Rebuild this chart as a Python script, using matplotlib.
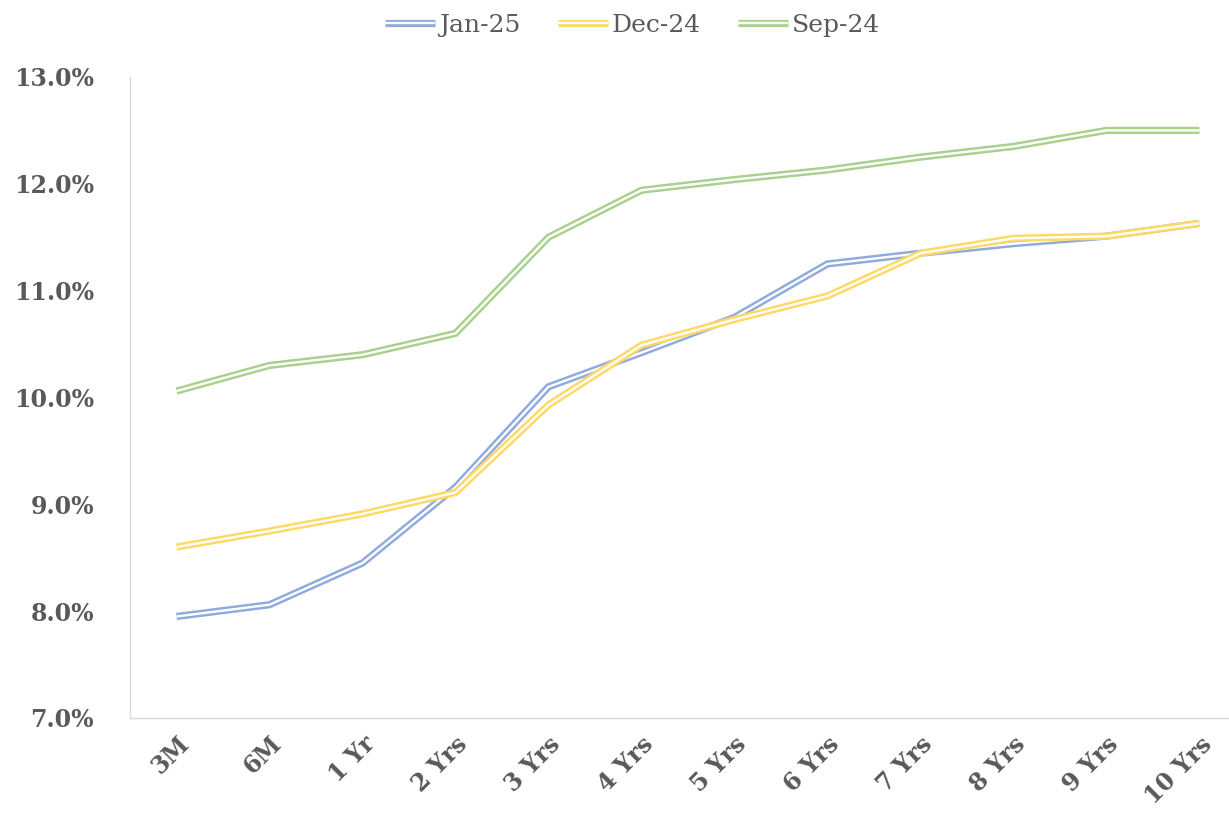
import matplotlib
matplotlib.use("Agg")
import matplotlib.pyplot as plt
import matplotlib.patheffects as pe
from matplotlib.ticker import FuncFormatter

# 收益率曲线数据
tenors = ["3M", "6M", "1 Yr", "2 Yrs", "3 Yrs", "4 Yrs", "5 Yrs",
          "6 Yrs", "7 Yrs", "8 Yrs", "9 Yrs", "10 Yrs"]
jan25 = [7.95, 8.06, 8.45, 9.16, 10.10, 10.42, 10.75, 11.25, 11.35, 11.44, 11.51, 11.63]
dec24 = [8.60, 8.75, 8.91, 9.11, 9.93, 10.49, 10.73, 10.95, 11.35, 11.49, 11.51, 11.63]
sep24 = [10.06, 10.30, 10.40, 10.60, 11.50, 11.94, 12.04, 12.13, 12.25, 12.35, 12.50, 12.50]

series = [("Jan-25", jan25, "#8FAADC"),
          ("Dec-24", dec24, "#FFD966"),
          ("Sep-24", sep24, "#A9D18E")]

plt.rcParams['font.family'] = ['DejaVu Serif']
text_color = "#595959"

fig = plt.figure(figsize=(12.29, 8.26), dpi=100)
ax = fig.add_axes([0.1058, 0.1308, 0.908, 0.776])

x = list(range(len(tenors)))
for name, vals, col in series:
    # Excel式双线：彩色粗线上叠一条白线
    ax.plot(x, vals, color="white", lw=1.7, label=name, solid_capstyle="butt",
            path_effects=[pe.Stroke(linewidth=5.2, foreground=col, capstyle="butt"),
                          pe.Normal()])

ax.set_xlim(-0.5, 11.5)
ax.set_ylim(7.0, 13.0)
ax.set_yticks([7, 8, 9, 10, 11, 12, 13])
ax.yaxis.set_major_formatter(FuncFormatter(lambda v, p: f"{v:.1f}%"))
ax.set_xticks(x)
ax.set_xticklabels(tenors, rotation=45, ha="right", rotation_mode="anchor")

for lab in ax.get_xticklabels() + ax.get_yticklabels():
    lab.set_fontweight("heavy")
    lab.set_color(text_color)
    lab.set_fontsize(17)

ax.tick_params(axis="both", length=0)
ax.tick_params(axis="y", pad=26)
ax.tick_params(axis="x", pad=10)
for s in ["top", "right"]:
    ax.spines[s].set_visible(False)
for s in ["left", "bottom"]:
    ax.spines[s].set_color("#D9D9D9")
    ax.spines[s].set_linewidth(1.0)

leg = fig.legend(loc="upper center", bbox_to_anchor=(0.515, 1.01), ncol=3,
                 frameon=False, fontsize=18, handlelength=2.0,
                 handletextpad=0.15, columnspacing=1.5)
for t in leg.get_texts():
    t.set_color(text_color)

fig.savefig("out.png", dpi=100)
